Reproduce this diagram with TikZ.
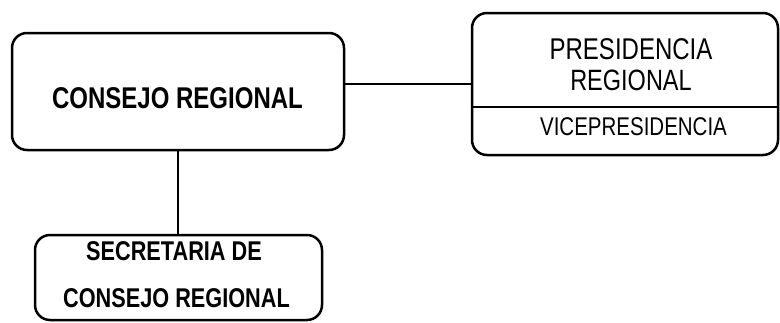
\documentclass[tikz,border=0pt]{standalone}
\usepackage{fontspec}
\setmainfont{Liberation Sans}
\newcommand{\tall}[1]{\scalebox{1}[1.25]{#1}}

\begin{document}
\begin{tikzpicture}[x=1pt, y=-1pt,
    box/.style={draw, black, line width=2.5pt, rounded corners=15pt, inner sep=0pt},
    link/.style={black, line width=2.2pt},
    lbl/.style={inner sep=0pt}]
    \useasboundingbox (0,0) rectangle (780,322);

    \draw 
    (178, 91.5) node[box, minimum width=332pt, minimum height=117pt](consejo){}
    (625, 84) node[box, minimum width=306pt, minimum height=142pt](presidencia){}
    (178.5, 277.5) node[box, minimum width=287pt, minimum height=85pt](secretaria){};

    \draw 
    (177.5, 98) node[lbl, font=\fontsize{24}{28}\selectfont\bfseries](consejoTxt){\tall{CONSEJO REGIONAL}}
    (631, 49) node[lbl, font=\fontsize{24}{28}\selectfont](presTxt){\tall{PRESIDENCIA}}
    (631, 80) node[lbl, font=\fontsize{23.5}{28}\selectfont](regTxt){\tall{REGIONAL}}
    (633.5, 127) node[lbl, font=\fontsize{20.5}{24}\selectfont](viceTxt){\tall{VICEPRESIDENCIA}}
    (174, 251.5) node[lbl, font=\fontsize{21.7}{26}\selectfont\bfseries](secTxt){\tall{SECRETARIA DE}}
    (176.5, 298) node[lbl, font=\fontsize{21.7}{26}\selectfont\bfseries](secRegTxt){\tall{CONSEJO REGIONAL}};

    \coordinate (split) at (625, 107);
    \draw[link] (presidencia.west |- split) -- (presidencia.east |- split);

    \draw[link] (consejo.east |- presidencia.west) -- (presidencia.west);
    \draw[link] (consejo.south) -- (consejo.south |- secretaria.north);
\end{tikzpicture}
\end{document}
